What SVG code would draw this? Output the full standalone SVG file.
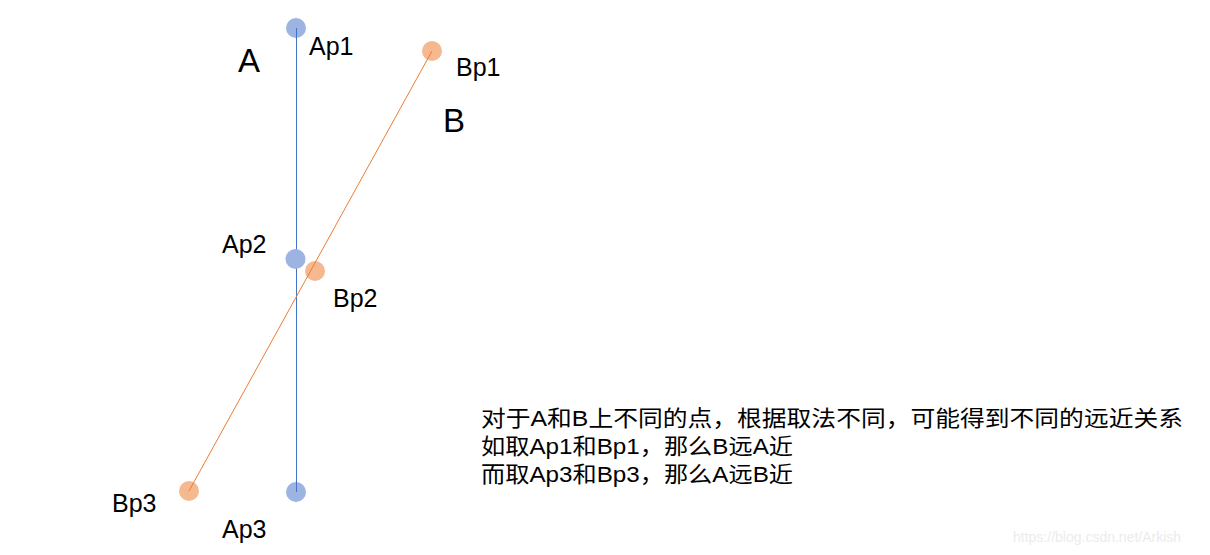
<svg xmlns="http://www.w3.org/2000/svg" width="1210" height="555" viewBox="0 0 1210 555">
<style>
.lbl{font-family:"Liberation Sans","Noto Sans",sans-serif;font-size:25px;fill:#000}
.big{font-family:"Liberation Sans","Noto Sans",sans-serif;font-size:33px;fill:#000}
.cn{font-family:"Liberation Sans","Noto Sans CJK SC",sans-serif;font-size:22px;fill:#000}
.pa{fill:#9db3e2}
.pb{fill:#f5b88f}
</style>
<rect width="1210" height="555" fill="#fff"/>
<g id="Ap1"><circle class="pa" cx="296" cy="28" r="10"/><text class="lbl" x="309" y="55">Ap1</text></g>
<g id="Ap3"><circle class="pa" cx="296" cy="492" r="10"/><text class="lbl" x="222" y="538">Ap3</text></g>
<g id="Bp1"><circle class="pb" cx="432" cy="51" r="10"/><text class="lbl" x="456" y="76">Bp1</text></g>
<g id="Bp2"><circle class="pb" cx="315" cy="271" r="10"/><text class="lbl" x="333" y="307">Bp2</text></g>
<g id="Bp3"><circle class="pb" cx="189" cy="491" r="10"/><text class="lbl" x="112" y="512">Bp3</text></g>
<g id="connectors">
<line x1="296.5" y1="28" x2="296.5" y2="492" stroke="#4472c4" stroke-width="1"/>
<line x1="432" y1="51" x2="189" y2="491" stroke="#ed7d31" stroke-width="1"/>
</g>
<g id="Ap2"><circle class="pa" cx="295.5" cy="259" r="10"/><text class="lbl" x="222" y="253">Ap2</text></g>
<g id="A"><text class="big" x="238" y="72">A</text></g>
<g id="B"><text class="big" x="443" y="132">B</text></g>
<g id="note">
<text class="cn" x="481" y="426" textLength="702" lengthAdjust="spacingAndGlyphs">对于A和B上不同的点，根据取法不同，可能得到不同的远近关系</text>
<text class="cn" x="481" y="454" textLength="312" lengthAdjust="spacingAndGlyphs">如取Ap1和Bp1，那么B远A近</text>
<text class="cn" x="481" y="482" textLength="312" lengthAdjust="spacingAndGlyphs">而取Ap3和Bp3，那么A远B近</text>
</g>
<text x="1013" y="542" font-family="Liberation Sans,sans-serif" font-size="14" fill="#ececec">https://blog.csdn.net/Arkish</text>
</svg>
